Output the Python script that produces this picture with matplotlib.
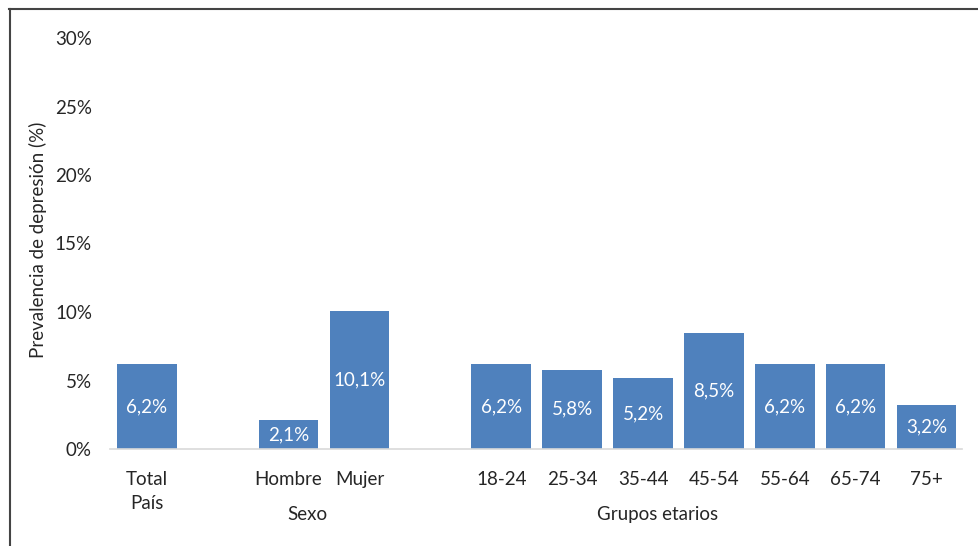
import matplotlib
matplotlib.use("Agg")
import matplotlib.pyplot as plt
from matplotlib.lines import Line2D

categories = ["Total\nPaís", "Hombre", "Mujer", "18-24", "25-34", "35-44",
              "45-54", "55-64", "65-74", "75+"]
values = [6.2, 2.1, 10.1, 6.2, 5.8, 5.2, 8.5, 6.2, 6.2, 3.2]
value_labels = ["6,2%", "2,1%", "10,1%", "6,2%", "5,8%", "5,2%", "8,5%",
                "6,2%", "6,2%", "3,2%"]
slots = [0, 2, 3, 5, 6, 7, 8, 9, 10, 11]
group_labels = ["Sexo", "Grupos etarios"]
group_pos = [2.27, 7.2]
yticks = [0, 5, 10, 15, 20, 25, 30]
ytick_labels = ["0%", "5%", "10%", "15%", "20%", "25%", "30%"]

plt.rcParams['font.family'] = ['Lato', 'DejaVu Sans']
W, H = 979, 546
fig = plt.figure(figsize=(W / 100, H / 100), dpi=100)
ax = fig.add_axes([110 / W, 1 - 449 / H, (962 - 110) / W, (449 - 38) / H])

fs = 13.5
txt = "#262626"
bar_color = "#4F81BD"
ax.bar(slots, values, width=0.84, color=bar_color, zorder=2)
for x, v, lab in zip(slots, values, value_labels):
    ax.text(x, v / 2, lab, ha="center", va="center", color="white",
            fontsize=fs)

ax.set_xlim(-0.52, 11.5)
ax.set_ylim(0, 30)
ax.set_yticks(yticks)
ax.set_yticklabels(ytick_labels, fontsize=fs, color=txt)
ax.set_xticks(slots)
ax.set_xticklabels(categories, fontsize=fs, color=txt, linespacing=1.45)
ax.tick_params(axis="both", length=0)
ax.tick_params(axis="x", pad=16)
ax.tick_params(axis="y", pad=13)
for s in ["top", "right", "left"]:
    ax.spines[s].set_visible(False)
ax.spines["bottom"].set_color("#D9D9D9")
ax.spines["bottom"].set_linewidth(1.2)

ax.set_ylabel("Prevalencia de depresión (%)", fontsize=fs, color=txt)
ax.yaxis.set_label_coords((47 - 110) / (962 - 110), (449 - 240) / (449 - 38))

for lab, pos in zip(group_labels, group_pos):
    ax.text(pos, -4.8, lab, ha="center", va="center", fontsize=fs,
            color=txt, transform=ax.transData)

# figure border (top and left)
fig.add_artist(Line2D([9 / W, 1], [1 - 9 / H, 1 - 9 / H], color="#444444",
                      linewidth=1.5, transform=fig.transFigure))
fig.add_artist(Line2D([9.5 / W, 9.5 / W], [0, 1 - 9 / H], color="#444444",
                      linewidth=1.5, transform=fig.transFigure))

fig.savefig("out.png", dpi=100)
